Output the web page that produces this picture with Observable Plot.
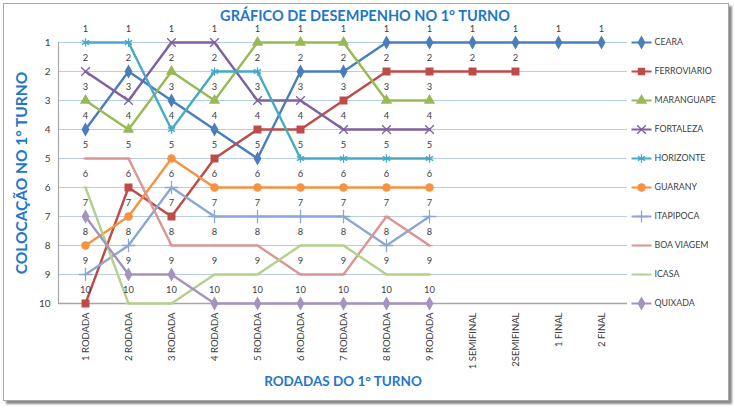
<!DOCTYPE html>
<html><head><meta charset="utf-8">
<script src="https://cdn.jsdelivr.net/npm/d3@7"></script>
<script src="https://cdn.jsdelivr.net/npm/@observablehq/plot@0.6"></script>
<style>
body{margin:0;background:#fff;}
#wrap{position:relative;width:735px;height:408px;overflow:hidden;background:#fff;}
#frame{position:absolute;left:3px;top:3px;width:724px;height:396px;border:1px solid #a8a8a8;box-shadow:3px 3px 2px #8a8a8a;background:#fff;}
#chart{position:absolute;left:0;top:0;}
</style></head><body>
<div id="wrap"><div id="frame"></div><div id="chart"></div></div>
<script>
const rounds = ["1 RODADA","2 RODADA","3 RODADA","4 RODADA","5 RODADA","6 RODADA","7 RODADA","8 RODADA","9 RODADA","1 SEMIFINAL","2SEMIFINAL","1 FINAL","2 FINAL"];
const teams = ["CEARA","FERROVIARIO","MARANGUAPE","FORTALEZA","HORIZONTE","GUARANY","ITAPIPOCA","BOA VIAGEM","ICASA","QUIXADA"];
const colors = ["#4a7ebb","#be4b48","#98b954","#7d60a0","#46aac5","#f69240","#8ca7d6","#d99694","#b4d08c","#a493be"];
const symbols = ["diamond","square","triangle","times","asterisk","circle","plus","dash","dash","diamond"];
const yTicks = [1,2,3,4,5,6,7,8,9,10];

const ceara       = [4,2,3,4,5,2,2,1,1,1,1,1,1];
const ferroviario = [10,6,7,5,4,4,3,2,2,2,2];
const maranguape  = [3,4,2,3,1,1,1,3,3];
const fortaleza   = [2,3,1,1,3,3,4,4,4];
const horizonte   = [1,1,4,2,2,5,5,5,5];
const guarany     = [8,7,5,6,6,6,6,6,6];
const itapipoca   = [9,8,6,7,7,7,7,8,7];
const boaViagem   = [5,5,8,8,8,9,9,7,8];
const icasa       = [6,10,10,9,9,8,8,9,9];
const quixada     = [7,9,9,10,10,10,10,10,10];
const series = [ceara,ferroviario,maranguape,fortaleza,horizonte,guarany,itapipoca,boaViagem,icasa,quixada];

const rows = [];
series.forEach((vals,i)=>vals.forEach((v,j)=>rows.push({team:teams[i], idx:i, round:rounds[j], rank:v})));
const legend = teams.map((t,i)=>({team:t, idx:i, rank:i+1}));

const dashSym = {draw(ctx){ctx.moveTo(-3,0);ctx.lineTo(3,0);}};
const legendLine = {draw(ctx){ctx.moveTo(-10,0);ctx.lineTo(10,0);}};
const strokeSyms = new Set(["times","asterisk","plus"]);

const marks = [
  Plot.ruleY(yTicks.slice(0,9), {y:d=>d, stroke:"#b9cde5", strokeWidth:1}),
  Plot.ruleY([10], {stroke:"#a6a6a6", strokeWidth:1.5}),
  Plot.frame({anchor:"left", stroke:"#a6a6a6", strokeWidth:1.2})
];

series.forEach((vals,i)=>{
  const d = rows.filter(r=>r.idx===i);
  marks.push(Plot.line(d, {x:"round", y:"rank", stroke:colors[i], strokeWidth:2.4}));
  const s = symbols[i];
  const sym = s==="dash" ? dashSym : s;
  if (strokeSyms.has(s) || s==="dash") {
    marks.push(Plot.dot(d, {x:"round", y:"rank", symbol:()=>sym, stroke:colors[i], fill:"none", r:s==="plus"?4.5:4, strokeWidth:1.3}));
  } else {
    marks.push(Plot.dot(d, {x:"round", y:"rank", symbol:()=>sym, fill:colors[i], stroke:"none", r:s==="circle"?4.3:(s==="square"?4.5:4.2)}));
  }
  // legend
  marks.push(Plot.dot([legend[i]], {x:()=>rounds[12], y:"rank", dx:40, symbol:()=>legendLine, stroke:colors[i], strokeWidth:2}));
  if (strokeSyms.has(s) || s==="dash") {
    marks.push(Plot.dot([legend[i]], {x:()=>rounds[12], y:"rank", dx:40, symbol:()=>sym, stroke:colors[i], fill:"none", r:4, strokeWidth:1.3}));
  } else {
    marks.push(Plot.dot([legend[i]], {x:()=>rounds[12], y:"rank", dx:40, symbol:()=>sym, fill:colors[i], r:s==="circle"?4.3:4.2}));
  }
  marks.push(Plot.text([legend[i]], {x:()=>rounds[12], y:"rank", dx:53, text:"team", textAnchor:"start", fontSize:8.8, fill:"#404040"}));
});

// data labels
marks.push(Plot.text(rows, {x:"round", y:"rank", text:d=>String(d.rank), dy:-13, fontSize:9.3, fill:"#3d3d46"}));

marks.push(Plot.axisY({ticks:yTicks, tickSize:0, tickPadding:8, fontSize:10, color:"#404040", label:null}));
marks.push(Plot.axisX({tickSize:0, tickPadding:9, tickRotate:-90, fontSize:9.5, color:"#404040", label:null}));

// titles
marks.push(Plot.text(["GRÁFICO DE DESEMPENHO NO 1° TURNO"], {frameAnchor:"top", text:d=>d, dx:22, dy:-26, lineAnchor:"middle", fontSize:14.5, fontWeight:"bold", fill:"#1f77c9"}));
marks.push(Plot.text(["RODADAS DO 1° TURNO"], {frameAnchor:"bottom", text:d=>d, dy:78, lineAnchor:"middle", fontSize:13.5, fontWeight:"bold", fill:"#1f77c9"}));
marks.push(Plot.text(["COLOCAÇÃO NO 1° TURNO"], {frameAnchor:"left", text:d=>d, dx:-36, rotate:-90, textAnchor:"middle", lineAnchor:"middle", fontSize:15.5, fontWeight:"bold", fill:"#1f77c9"}));

const chart = Plot.plot({
  width:735, height:408,
  marginTop:42, marginBottom:105, marginLeft:58, marginRight:108,
  style:{fontFamily:"Lato, 'Open Sans', sans-serif", background:"transparent", overflow:"visible"},
  x:{type:"point", domain:rounds, padding:0.5, axis:null},
  y:{domain:[10,1], range:[303,42], axis:null},
  marks
});
document.getElementById("chart").appendChild(chart);
</script>
</body></html>
